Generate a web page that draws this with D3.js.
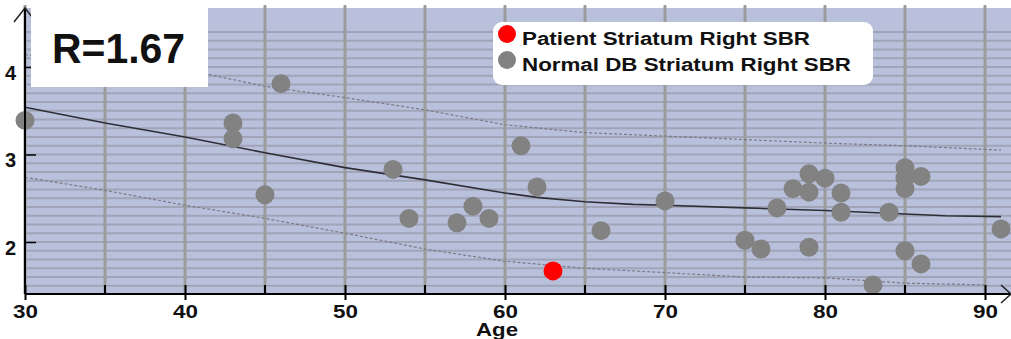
<!DOCTYPE html>
<html>
<head>
<meta charset="utf-8">
<script src="https://cdn.jsdelivr.net/npm/d3@7"></script>
<style>
  body { margin: 0; background: #fff; }
  svg { display: block; }
  text { font-family: "Liberation Sans", Arial, sans-serif; font-weight: bold; fill: #111; }
</style>
</head>
<body>
<div id="chart"></div>
<script>
// normal database points (age, SBR)
const normalAge = [30, 43, 43, 46, 45, 53, 54, 57, 58, 59, 61, 62, 66, 70, 75, 76, 77, 78, 79, 79, 80, 79,
  81, 81, 84, 85, 85, 85, 86, 85, 86, 83, 91];
const normalSbr = [3.39, 3.36, 3.18, 3.81, 2.54, 2.83, 2.27, 2.22, 2.41, 2.27, 3.10, 2.63, 2.13, 2.47, 2.02, 1.92, 2.39, 2.61, 2.78, 2.57, 2.73, 1.94,
  2.56, 2.34, 2.34, 2.85, 2.73, 2.61, 2.75, 1.90, 1.75, 1.51, 2.15];
const patientAge = [63];
const patientSbr = [1.67];

// regression line and limits
const fitAge = [30, 35, 40, 45, 50, 55, 60, 62, 65, 68, 70, 75, 80, 85, 87.5, 91];
const fitSbr = [3.54, 3.36, 3.20, 3.02, 2.85, 2.71, 2.56, 2.51, 2.46, 2.43, 2.42, 2.39, 2.36, 2.32, 2.30, 2.29];
const upperAge = [30, 35, 40, 45, 50, 55, 60, 65, 70, 75, 80, 85, 91];
const upperSbr = [4.14, 4.06, 3.97, 3.78, 3.65, 3.51, 3.34, 3.25, 3.21, 3.17, 3.13, 3.10, 3.05];
const lowerAge = [30, 35, 40, 45, 50, 55, 60, 65, 70, 75, 80, 85, 90];
const lowerSbr = [2.74, 2.59, 2.42, 2.27, 2.10, 1.92, 1.78, 1.70, 1.65, 1.60, 1.59, 1.53, 1.51];

const xTicks = [30, 40, 50, 60, 70, 80, 90];
const xMinor = [35, 45, 55, 65, 75, 85];
const yTicks = [2, 3, 4];
const legendLabels = ['Patient Striatum Right SBR', 'Normal DB Striatum Right SBR'];

const width = 1011, height = 339;
const svg = d3.select('#chart').append('svg')
  .attr('width', width)
  .attr('height', height);

const x = d3.scaleLinear().domain([30, 90]).range([25, 985]);
const y = d3.scaleLinear().domain([2, 4]).range([242, 67]);
const plotTop = 8, plotBottom = 294;

// background
svg.append('rect')
  .attr('x', x(30)).attr('y', plotTop)
  .attr('width', width - x(30)).attr('height', plotBottom - plotTop)
  .attr('fill', '#b9c0dc');

// horizontal grid every 0.1
const gridY = d3.range(15, 45).map(d => d / 10);
svg.append('g').selectAll('line')
  .data(gridY)
  .join('line')
    .attr('x1', x(30)).attr('x2', width)
    .attr('y1', d => y(d)).attr('y2', d => y(d))
    .attr('stroke', '#a0a4b6')
    .attr('stroke-width', 2);

// vertical grid every 5 years
svg.append('g').selectAll('line')
  .data(xTicks.concat(xMinor))
  .join('line')
    .attr('x1', d => x(d)).attr('x2', d => x(d))
    .attr('y1', 5).attr('y2', plotBottom)
    .attr('stroke', '#9b9b9b')
    .attr('stroke-width', 3);

// trend lines
const line = d3.line().x(d => x(d[0])).y(d => y(d[1]));
svg.append('path')
  .attr('d', line(d3.zip(upperAge, upperSbr)))
  .attr('fill', 'none').attr('stroke', '#7a7a88')
  .attr('stroke-width', 1.2).attr('stroke-dasharray', '3,2');
svg.append('path')
  .attr('d', line(d3.zip(lowerAge, lowerSbr)))
  .attr('fill', 'none').attr('stroke', '#7a7a88')
  .attr('stroke-width', 1.2).attr('stroke-dasharray', '3,2');
svg.append('path')
  .attr('d', line(d3.zip(fitAge, fitSbr)))
  .attr('fill', 'none').attr('stroke', '#2e2e36')
  .attr('stroke-width', 1.6);

// points
svg.append('g').selectAll('circle')
  .data(d3.zip(normalAge, normalSbr))
  .join('circle')
    .attr('cx', d => x(d[0]))
    .attr('cy', d => y(d[1]))
    .attr('r', 9.5)
    .attr('fill', '#828282');
svg.append('g').selectAll('circle')
  .data(d3.zip(patientAge, patientSbr))
  .join('circle')
    .attr('cx', d => x(d[0]))
    .attr('cy', d => y(d[1]))
    .attr('r', 9.5)
    .attr('fill', '#ff0000');

// x axis
const xAxis = svg.append('g')
  .attr('transform', 'translate(0,' + plotBottom + ')')
  .call(d3.axisBottom(x).tickValues(xTicks).tickSize(6).tickSizeOuter(0).tickPadding(5));
xAxis.select('.domain').remove();
xAxis.selectAll('.tick line').attr('y1', -9).attr('stroke', '#000').attr('stroke-width', 2);
xAxis.selectAll('.tick text')
  .attr('font-size', 19).attr('font-family', null)
  .attr('dy', '0.71em')
  .attr('textLength', 25).attr('lengthAdjust', 'spacingAndGlyphs')
  .attr('fill', '#111');
svg.append('g').selectAll('line')
  .data(xMinor)
  .join('line')
    .attr('x1', d => x(d)).attr('x2', d => x(d))
    .attr('y1', plotBottom - 9).attr('y2', plotBottom)
    .attr('stroke', '#000').attr('stroke-width', 2);
svg.append('line')
  .attr('x1', x(30)).attr('x2', width)
  .attr('y1', plotBottom).attr('y2', plotBottom)
  .attr('stroke', '#000').attr('stroke-width', 2);
svg.append('path')
  .attr('d', 'M1001,285L1011,294L1001,303')
  .attr('fill', 'none').attr('stroke', '#222').attr('stroke-width', 1.5);

svg.append('text')
  .attr('x', 497).attr('y', 336)
  .attr('text-anchor', 'middle')
  .attr('font-size', 18)
  .attr('textLength', 42).attr('lengthAdjust', 'spacingAndGlyphs')
  .text('Age');

// y axis
const yAxis = svg.append('g')
  .attr('transform', 'translate(' + x(30) + ',0)')
  .call(d3.axisLeft(y).tickValues(yTicks).tickFormat(d3.format('d')).tickSize(10).tickSizeOuter(0));
yAxis.select('.domain').remove();
yAxis.selectAll('.tick line').attr('x2', 11).attr('stroke', '#000').attr('stroke-width', 1.5);
yAxis.selectAll('.tick text')
  .attr('font-size', 20).attr('font-family', null)
  .attr('text-anchor', 'start')
  .attr('x', -20)
  .attr('dy', '0.6em')
  .attr('fill', '#111');
svg.append('line')
  .attr('x1', x(30)).attr('x2', x(30))
  .attr('y1', plotTop).attr('y2', plotBottom)
  .attr('stroke', '#000').attr('stroke-width', 2);
svg.append('path')
  .attr('d', 'M14,22L25,8L36,22')
  .attr('fill', 'none').attr('stroke', '#222').attr('stroke-width', 1.5);

// R value box
svg.append('rect')
  .attr('x', 31).attr('y', 0)
  .attr('width', 177).attr('height', 87)
  .attr('fill', '#fff');
svg.append('text')
  .attr('x', 52).attr('y', 63)
  .attr('font-family', 'Lato, "Open Sans", sans-serif')
  .attr('font-size', 43)
  .attr('textLength', 133).attr('lengthAdjust', 'spacingAndGlyphs')
  .attr('fill', '#000')
  .text('R=' + patientSbr[0].toFixed(2));

// legend
const legend = svg.append('g').attr('transform', 'translate(493,22)');
legend.append('rect')
  .attr('width', 380).attr('height', 63)
  .attr('rx', 9)
  .attr('fill', '#fff');
const legendColors = ['#ff0000', '#828282'];
const legendLengths = [288, 329];
legendLabels.forEach((label, i) => {
  legend.append('circle')
    .attr('cx', 14).attr('cy', 12 + i * 26)
    .attr('r', 9)
    .attr('fill', legendColors[i]);
  legend.append('text')
    .attr('x', 29).attr('y', 23 + i * 26)
    .attr('font-size', 18)
    .attr('textLength', legendLengths[i]).attr('lengthAdjust', 'spacingAndGlyphs')
    .text(label);
});
</script>
</body>
</html>
